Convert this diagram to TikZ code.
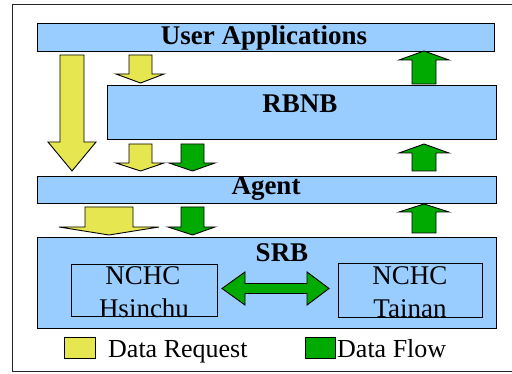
\documentclass[tikz,border=0pt]{standalone}
\usepackage{fontspec}
\setmainfont{Liberation Serif}
\definecolor{boxblue}{HTML}{99CCFF}
\definecolor{reqyellow}{HTML}{E6E650}
\definecolor{flowgreen}{HTML}{00AA00}
\tikzset{
  layer/.style={draw=black, line width=1.1pt, fill=boxblue, rectangle, inner sep=0pt, anchor=north west},
  site/.style={draw=black, line width=1.1pt, rectangle, inner sep=0pt, anchor=north west},
  bold label/.style={font=\fontsize{27}{27}\selectfont\bfseries, anchor=base, inner sep=0pt},
  site label/.style={font=\fontsize{27}{27}\selectfont, anchor=base, inner sep=0pt},
  plain label/.style={font=\fontsize{26}{26}\selectfont, anchor=base, inner sep=0pt},
  blockarrow/.style={draw=black, line width=0.9pt, line join=miter},
  legendbox/.style={draw=black, line width=1pt, rectangle, inner sep=0pt, anchor=north west},
}
% vertical block arrow: #1 x1, #2 x2, #3 tail, #4 head x1, #5 head x2, #6 head base, #7 tip, #8 colour
\newcommand{\blkarrow}[8]{%
  \draw[blockarrow, fill=#8] (#1,#3) -- (#2,#3) -- (#2,#6) -- (#5,#6) -- ({(#1+#2)/2},#7) -- (#4,#6) -- (#1,#6) -- cycle;}
\begin{document}
\begin{tikzpicture}[x=1pt, y=-1pt]
\useasboundingbox (0,0) rectangle (512,374);
\fill[white] (0,0) rectangle (512,374);
\draw[line width=1pt, black!85] (12,5) rectangle (520,372);

% layers
\node[layer, minimum width=457pt, minimum height=28pt] (ua) at (37,23) {};
\node[layer, minimum width=389pt, minimum height=54pt] (rbnb) at (107,85) {};
\node[layer, minimum width=459pt, minimum height=27pt] (agent) at (37,176) {};
\node[layer, minimum width=459pt, minimum height=91pt] (srb) at (37,237) {};

\node[bold label] (tua) at (264,45) {User Applications};
\node[bold label] (trbnb) at (300,113) {RBNB};
\node[bold label] (tagent) at (266,195) {Agent};
\node[bold label] (tsrb) at (282,262) {SRB};

% sites inside SRB
\node[site label] (hs1) at (143,285) {NCHC};
\node[site label] (hs2) at (144,318) {Hsinchu};
\node[site label] (tn1) at (410,285) {NCHC};
\node[site label] (tn2) at (410,318) {Tainan};
\node[site, minimum width=146pt, minimum height=52pt] (hsinchu) at (71,264) {};
\node[site, minimum width=144pt, minimum height=54pt] (tainan) at (338,263) {};

% double arrow between sites
\draw[blockarrow, fill=flowgreen] (222,288.5) -- (245,272) -- (245,283.5) -- (307,283.5) -- (307,272) -- (329,288.5) -- (307,305) -- (307,293.5) -- (245,293.5) -- (245,305) -- cycle;

% big request arrow
\blkarrow{60}{84}{55}{48}{96}{142}{171}{reqyellow}

% row 1 (user apps -> RBNB)
\blkarrow{129}{152}{55}{116}{164}{74}{83}{reqyellow}
\blkarrow{412}{436}{84}{399}{449}{60}{51}{flowgreen}

% row 2 (RBNB -> agent)
\blkarrow{129}{152}{144}{116}{164}{163}{171}{reqyellow}
\blkarrow{181}{204}{144}{169}{215}{163}{171}{flowgreen}
\blkarrow{412}{436}{171}{399}{449}{153}{144}{flowgreen}

% row 3 (agent -> SRB)
\blkarrow{85}{133}{207}{59}{159}{227}{235}{reqyellow}
\blkarrow{181}{204}{207}{168}{215}{227}{235}{flowgreen}
\blkarrow{412}{436}{233}{399}{449}{212}{204}{flowgreen}

% legend
\node[legendbox, fill=reqyellow, minimum width=31pt, minimum height=21pt] (lreq) at (64,337) {};
\node[plain label, anchor=base west] (treq) at (108,358) {Data Request};
\node[legendbox, fill=flowgreen, minimum width=30pt, minimum height=21pt] (lflow) at (305,337) {};
\node[plain label, anchor=base west] (tflow) at (337,358) {Data Flow};
\end{tikzpicture}
\end{document}
